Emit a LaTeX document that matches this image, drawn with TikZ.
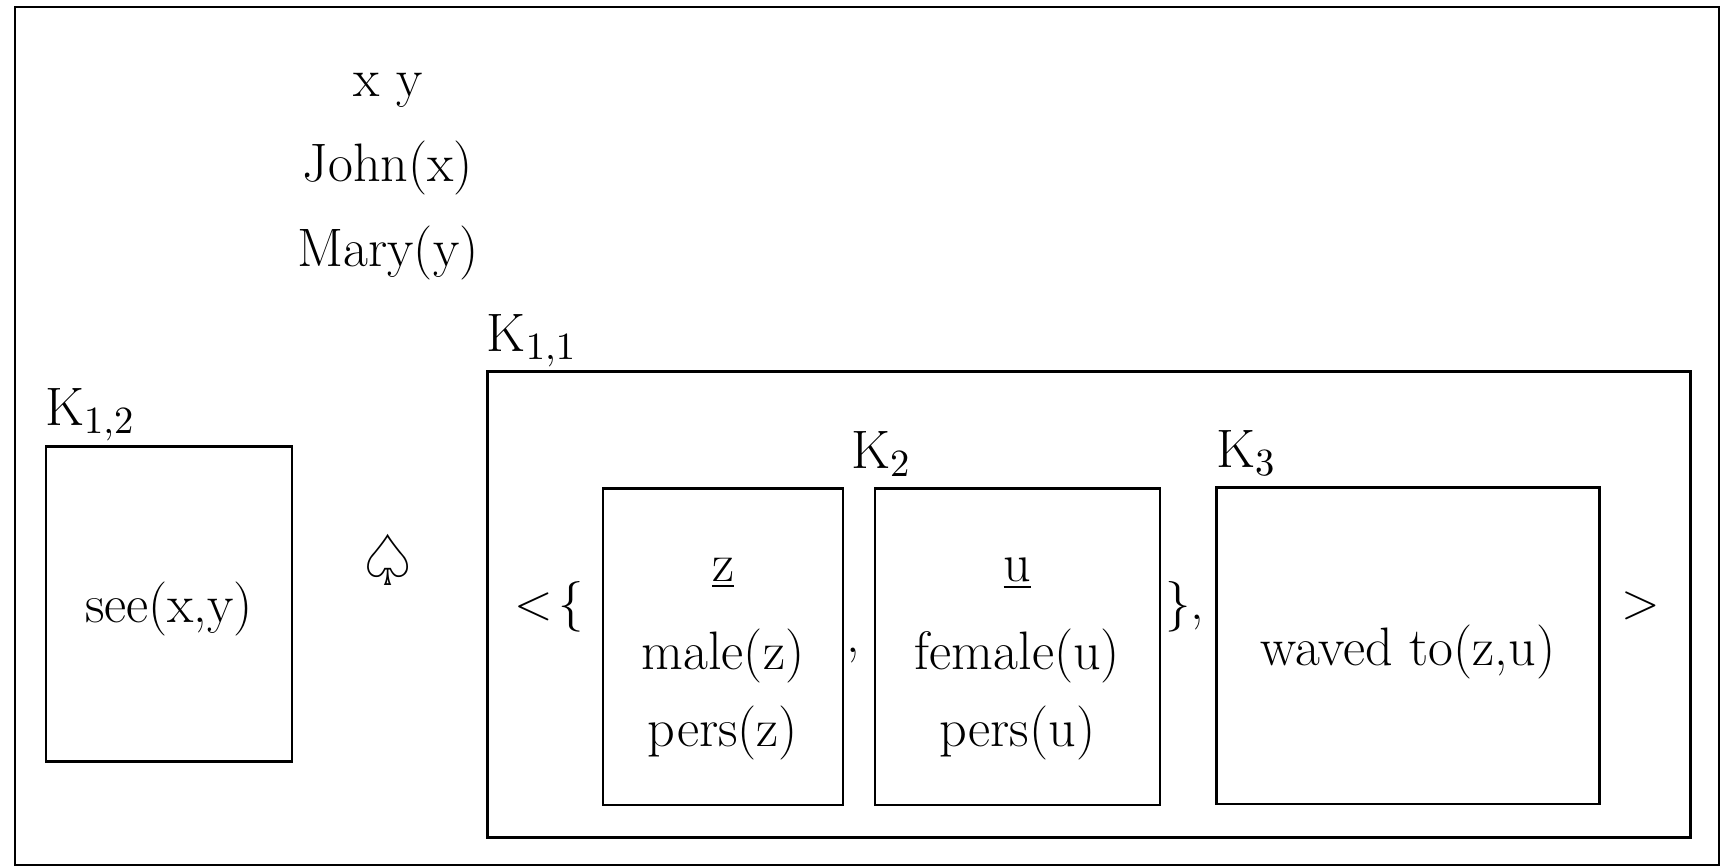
\documentclass[tikz,border=0pt]{standalone}
\usepackage{fontspec}
\newfontfamily\suitfont{DejaVu Sans}
\usetikzlibrary{positioning}
\tikzset{
  drs/.style    = {draw, line width=0.8pt, inner sep=0pt, align=center},
  rows/.style   = {inner sep=0pt, align=center},
  klabel/.style = {anchor=base west, inner sep=0pt},
  cond/.style   = {anchor=base, inner sep=0pt},
  delim/.style  = {inner sep=0pt},
}

\begin{document}
\begin{tikzpicture}[x=0.01cm, y=-0.01cm,
    every node/.style={font=\fontsize{15.4}{18.5}\selectfont}]
  \useasboundingbox (0,0) rectangle (1726,868);
  \draw[line width=0.8pt] (15,7) rectangle (1719,865);

  % main universe and conditions
  \node[cond] (univ) at (388,97)  {x y};
  \node[cond] (john) at (388,182) {John(x)};
  \node[cond] (mary) at (388,267) {Mary(y)};

  % K_{1,2}
  \node[drs, minimum width=2.46cm, minimum height=3.15cm] (k12) at (169,604) {};
  \node[rows] (see) at ([yshift=-0.05cm]k12.center) {see(x,y)};
  \node[klabel] (k12lbl) at ([yshift=0.19cm]k12.north west) {K$_{1,2}$};

  \node[inner sep=0pt] (spade) at (388,560) {\suitfont\fontsize{20}{24}\selectfont ♤};

  % K_{1,1}
  \node[drs, minimum width=12.02cm, minimum height=4.65cm] (k11) at (1089,604.5) {};
  \node[klabel] (k11lbl) at ([yshift=0.19cm]k11.north west) {K$_{1,1}$};

  \node[drs, minimum width=2.4cm, minimum height=3.16cm] (kz) at (723,647) {};
  \node[rows] (zconds) at ([yshift=-0.12cm]kz.center)
    {\underline{z}\\[6.5pt] male(z)\\[3.5pt] pers(z)};
  \node[drs, minimum width=2.85cm, minimum height=3.16cm] (ku) at (1017.5,647) {};
  \node[rows] (uconds) at ([yshift=-0.12cm]ku.center)
    {\underline{u}\\[6.5pt] female(u)\\[3.5pt] pers(u)};
  \node[klabel] (k2lbl) at ([xshift=0.06cm, yshift=0.19cm]kz.north east) {K$_2$};

  \node[drs, minimum width=3.82cm, minimum height=3.16cm] (k3) at (1408,646) {};
  \node[rows] (waved) at ([yshift=-0.06cm]k3.center) {waved to(z,u)};
  \node[klabel] (k3lbl) at ([yshift=0.19cm]k3.north west) {K$_3$};

  % brackets and commas
  \node[delim, anchor=east] (open) at ([xshift=-0.17cm, yshift=0.4cm]kz.west) {$<\!\{$};
  \node[delim, anchor=base] (sep) at (853,653) {,};
  \node[delim, anchor=west] (close) at ([xshift=0.03cm, yshift=0.4cm]ku.east) {$\}$,};
  \node[delim, anchor=west] (end) at ([xshift=0.2cm, yshift=0.4cm]k3.east) {$>$};
\end{tikzpicture}
\end{document}
